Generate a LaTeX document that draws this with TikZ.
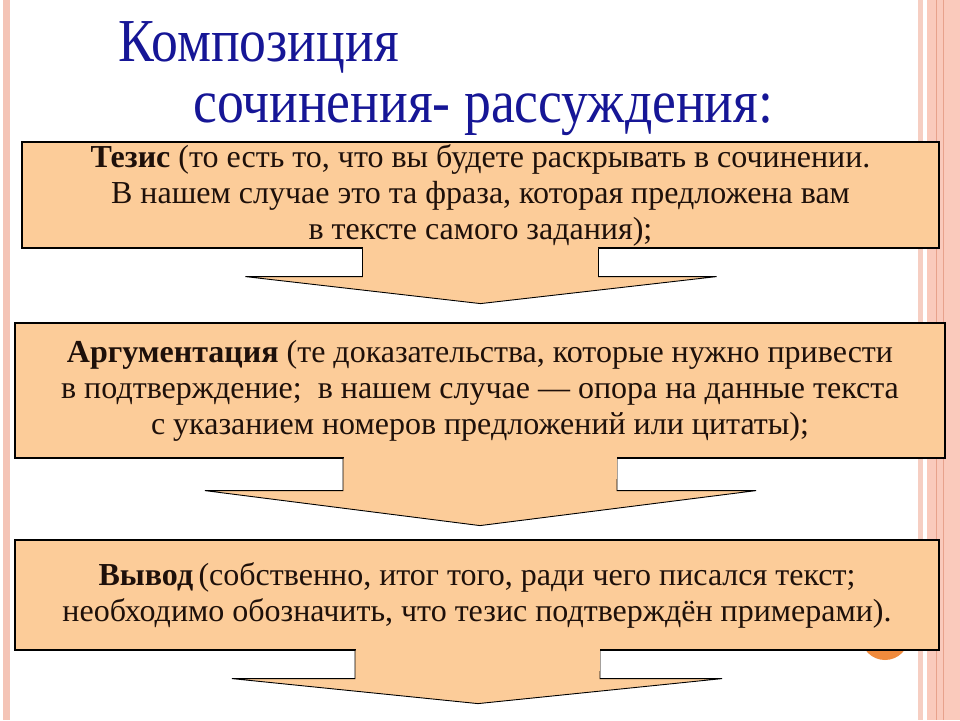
\documentclass[tikz,border=0pt]{standalone}
\usepackage{fontspec}
\setmainfont{Liberation Serif}
\newfontfamily\titlefont[FakeStretch=0.88]{Liberation Serif}
\usetikzlibrary{calc}
\definecolor{peach}{RGB}{252,204,153}
\definecolor{titleblue}{RGB}{22,22,150}
\definecolor{txt}{RGB}{30,16,10}
\definecolor{stripeL}{RGB}{244,196,182}
\definecolor{stripeP}{RGB}{246,206,194}
\definecolor{stripeO}{RGB}{250,202,188}
\definecolor{stripeD}{RGB}{232,162,140}
\definecolor{dotorange}{RGB}{240,138,60}
\tikzset{
  boxnode/.style={draw=black, line width=1.2pt, fill=peach, inner sep=0pt,
    align=center, text=txt, font=\fontsize{32}{36}\selectfont},
  arrowline/.style={draw=black, line width=0.9pt, fill=peach, line join=miter},
  titletext/.style={text=titleblue, inner sep=0pt, font=\titlefont\fontsize{61}{61}\selectfont}
}
\begin{document}
\begin{tikzpicture}[x=1pt,y=-1pt]
\useasboundingbox (0,0) rectangle (960,720);
\fill[white] (0,0) rectangle (960,720);
% side stripes
\fill[stripeL] (3,0) rectangle (10,720);
\fill[stripeP] (918,0) rectangle (923,720);
\fill[stripeO] (927,0) rectangle (960,720);
\draw[stripeD, line width=1pt] (936,0) -- (936,720);
\draw[stripeD, line width=1pt] (943,0) -- (943,720);
% orange circle behind box 3
\fill[dotorange] (885,636) circle[radius=24];
% title
\node[titletext, anchor=base west] (t1) at (118,61) {Композиция};
\node[titletext, anchor=base west] (t2) at (193,122) {сочинения- рассуждения:};
% boxes
\node[boxnode, minimum width=917pt, minimum height=106pt] (b1) at (480.5,195)
  {\textbf{Тезис} (то есть то, что вы будете раскрывать в сочинении.\\
   В нашем случае это та фраза, которая предложена вам\\
   в тексте самого задания);};
\node[boxnode, minimum width=930pt, minimum height=135pt] (b2) at (480,390.5)
  {\textbf{Аргументация} (те доказательства, которые нужно привести\\
   в подтверждение;\ \ в нашем случае — опора на данные текста\\
   с указанием номеров предложений или цитаты);};
\node[boxnode, minimum width=924pt, minimum height=110pt] (b3) at (477,595)
  {\textbf{Вывод}\,(собственно, итог того, ради чего писался текст;\\
   необходимо обозначить, что тезис подтверждён примерами).};
% block arrows
\draw[arrowline] ($(b1.south)+(-118,0)$) -- ($(b1.south)+(-118,28)$) -- ($(b1.south)+(-235,28)$)
  -- ($(b1.south)+(0,55)$) -- ($(b1.south)+(236,28)$) -- ($(b1.south)+(118,28)$) -- ($(b1.south)+(118,0)$);
\fill[peach] ($(b1.south)+(-117.5,-2)$) rectangle ($(b1.south)+(117.5,20)$);
\coordinate (tip1) at ($(b1.south)+(0,55)$);

\draw[arrowline] ($(b2.south)+(-137,0)$) -- ($(b2.south)+(-137,32)$) -- ($(b2.south)+(-275,32)$)
  -- ($(b2.south)+(0,67)$) -- ($(b2.south)+(276,32)$) -- ($(b2.south)+(137,32)$) -- ($(b2.south)+(137,0)$);
\fill[peach] ($(b2.south)+(-136.5,-2)$) rectangle ($(b2.south)+(136.5,20)$);

\draw[arrowline] ($(b3.south)+(-122,0)$) -- ($(b3.south)+(-122,28)$) -- ($(b3.south)+(-245,28)$)
  -- ($(b3.south)+(1,53)$) -- ($(b3.south)+(245,28)$) -- ($(b3.south)+(123,28)$) -- ($(b3.south)+(123,0)$);
\fill[peach] ($(b3.south)+(-121.5,-2)$) rectangle ($(b3.south)+(122.5,20)$);
\end{tikzpicture}
\end{document}
